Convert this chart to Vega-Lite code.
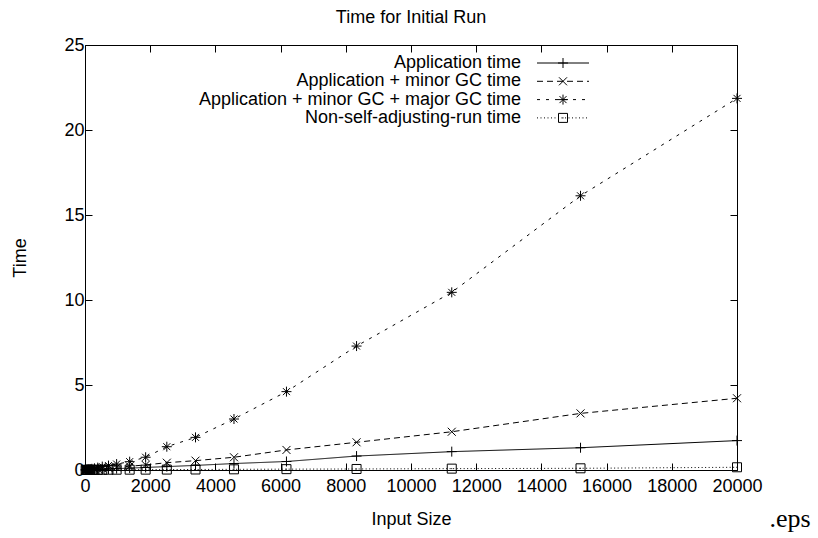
{
  "$schema": "https://vega.github.io/schema/vega-lite/v6.json",
  "width": 652,
  "height": 425,
  "autosize": {"type": "none"},
  "padding": {"left": 85, "top": 45, "right": 81, "bottom": 68},
  "background": "white",
  "title": {"text": "Time for Initial Run", "font": "Liberation Sans", "fontSize": 18, "fontWeight": "normal", "color": "black", "anchor": "middle", "offset": 9},
  "config": {
    "view": {"stroke": null},
    "axis": {"grid": false, "domainColor": "black", "domainWidth": 1, "tickColor": "black", "tickWidth": 1, "tickSize": -7, "labelFont": "Liberation Sans", "labelFontSize": 18, "labelColor": "black", "labelOverlap": false, "labelFlush": false, "titleFont": "Liberation Sans", "titleFontSize": 18, "titleFontWeight": "normal", "titleColor": "black"},
    "legend": {"padding": 0, "labelFont": "Liberation Sans", "labelFontSize": 18, "labelColor": "black", "labelLimit": 600}
  },
  "data": {"values": [
    {"n": 20, "Application time": 0.005, "Application + minor GC time": 0.006, "Application + minor GC + major GC time": 0.01, "Non-self-adjusting-run time": 0.002},
    {"n": 40, "Application time": 0.006, "Application + minor GC time": 0.008, "Application + minor GC + major GC time": 0.012, "Non-self-adjusting-run time": 0.003},
    {"n": 60, "Application time": 0.008, "Application + minor GC time": 0.01, "Application + minor GC + major GC time": 0.018, "Non-self-adjusting-run time": 0.004},
    {"n": 85, "Application time": 0.01, "Application + minor GC time": 0.013, "Application + minor GC + major GC time": 0.025, "Non-self-adjusting-run time": 0.005},
    {"n": 115, "Application time": 0.012, "Application + minor GC time": 0.017, "Application + minor GC + major GC time": 0.035, "Non-self-adjusting-run time": 0.006},
    {"n": 155, "Application time": 0.015, "Application + minor GC time": 0.022, "Application + minor GC + major GC time": 0.05, "Non-self-adjusting-run time": 0.007},
    {"n": 210, "Application time": 0.02, "Application + minor GC time": 0.03, "Application + minor GC + major GC time": 0.07, "Non-self-adjusting-run time": 0.008},
    {"n": 290, "Application time": 0.025, "Application + minor GC time": 0.045, "Application + minor GC + major GC time": 0.1, "Non-self-adjusting-run time": 0.01},
    {"n": 390, "Application time": 0.035, "Application + minor GC time": 0.065, "Application + minor GC + major GC time": 0.14, "Non-self-adjusting-run time": 0.012},
    {"n": 530, "Application time": 0.045, "Application + minor GC time": 0.09, "Application + minor GC + major GC time": 0.2, "Non-self-adjusting-run time": 0.014},
    {"n": 720, "Application time": 0.06, "Application + minor GC time": 0.12, "Application + minor GC + major GC time": 0.26, "Non-self-adjusting-run time": 0.016},
    {"n": 970, "Application time": 0.08, "Application + minor GC time": 0.16, "Application + minor GC + major GC time": 0.35, "Non-self-adjusting-run time": 0.018},
    {"n": 1370, "Application time": 0.11, "Application + minor GC time": 0.22, "Application + minor GC + major GC time": 0.49, "Non-self-adjusting-run time": 0.02},
    {"n": 1860, "Application time": 0.15, "Application + minor GC time": 0.3, "Application + minor GC + major GC time": 0.75, "Non-self-adjusting-run time": 0.022},
    {"n": 2510, "Application time": 0.2, "Application + minor GC time": 0.43, "Application + minor GC + major GC time": 1.37, "Non-self-adjusting-run time": 0.025},
    {"n": 3390, "Application time": 0.27, "Application + minor GC time": 0.55, "Application + minor GC + major GC time": 1.92, "Non-self-adjusting-run time": 0.03},
    {"n": 4570, "Application time": 0.38, "Application + minor GC time": 0.75, "Application + minor GC + major GC time": 3.0, "Non-self-adjusting-run time": 0.04},
    {"n": 6180, "Application time": 0.5, "Application + minor GC time": 1.18, "Application + minor GC + major GC time": 4.61, "Non-self-adjusting-run time": 0.05},
    {"n": 8330, "Application time": 0.82, "Application + minor GC time": 1.63, "Application + minor GC + major GC time": 7.29, "Non-self-adjusting-run time": 0.06},
    {"n": 11250, "Application time": 1.08, "Application + minor GC time": 2.25, "Application + minor GC + major GC time": 10.45, "Non-self-adjusting-run time": 0.08},
    {"n": 15200, "Application time": 1.31, "Application + minor GC time": 3.33, "Application + minor GC + major GC time": 16.13, "Non-self-adjusting-run time": 0.1},
    {"n": 20000, "Application time": 1.73, "Application + minor GC time": 4.22, "Application + minor GC + major GC time": 21.86, "Non-self-adjusting-run time": 0.16}
  ]},
  "transform": [
    {"fold": ["Application time", "Application + minor GC time", "Application + minor GC + major GC time", "Non-self-adjusting-run time"], "as": ["series", "t"]}
  ],
  "resolve": {"axis": {"x": "independent", "y": "independent"}},
  "layer": [
    {
      "mark": {"type": "line", "color": "black", "strokeWidth": 1},
      "encoding": {
        "x": {"field": "n", "type": "quantitative", "scale": {"domain": [0, 20000]},
              "axis": {"orient": "bottom", "values": [0, 2000, 4000, 6000, 8000, 10000, 12000, 14000, 16000, 18000, 20000], "format": "d", "labelPadding": 14, "labelDx": 2, "title": "Input Size", "titlePadding": 15}},
        "y": {"field": "t", "type": "quantitative", "scale": {"domain": [0, 25]},
              "axis": {"orient": "left", "values": [0, 5, 10, 15, 20, 25], "format": "d", "labelPadding": 8, "title": "Time", "titlePadding": 34}},
        "strokeDash": {"field": "series", "type": "nominal",
              "sort": ["Application time", "Application + minor GC time", "Application + minor GC + major GC time", "Non-self-adjusting-run time"],
              "scale": {"range": [[1, 0], [6, 4], [3, 6], [1, 2.5]]},
              "legend": {"title": null, "orient": "none", "legendX": 469, "legendY": 9, "direction": "vertical", "symbolType": "M-5.2,0H5.2", "symbolSize": 100, "symbolStrokeWidth": 1, "symbolStrokeColor": "black", "labelAlign": "right", "labelBaseline": "middle", "labelOffset": -51, "rowPadding": 0.3}}
      }
    },
    {
      "transform": [{"calculate": "datum.series", "as": "marker"}],
      "mark": {"type": "point", "filled": false, "color": "black", "strokeWidth": 1, "size": 100, "opacity": 1},
      "encoding": {
        "x": {"field": "n", "type": "quantitative", "scale": {"domain": [0, 20000]},
              "axis": {"orient": "top", "values": [0, 2000, 4000, 6000, 8000, 10000, 12000, 14000, 16000, 18000, 20000], "labels": false, "title": null}},
        "y": {"field": "t", "type": "quantitative", "scale": {"domain": [0, 25]},
              "axis": {"orient": "right", "values": [0, 5, 10, 15, 20, 25], "labels": false, "title": ".eps", "titleFont": "Liberation Serif", "titleFontSize": 26, "titleAngle": 0, "titleAlign": "left", "titleBaseline": "alphabetic", "titleX": 32, "titleY": 481}},
        "shape": {"field": "marker", "type": "nominal",
              "sort": ["Application time", "Application + minor GC time", "Application + minor GC + major GC time", "Non-self-adjusting-run time"],
              "scale": {"range": ["M-1,0H1M0,-1V1", "M-0.8,-0.8L0.8,0.8M-0.8,0.8L0.8,-0.8", "M-1,0H1M0,-1V1M-0.7,-0.7L0.7,0.7M-0.7,0.7L0.7,-0.7", "M-0.9,-0.9H0.9V0.9H-0.9ZM-0.1,0H0.1"]},
              "legend": {"title": null, "orient": "none", "legendX": 469, "legendY": 9, "direction": "vertical", "symbolSize": 100, "symbolStrokeWidth": 1, "symbolStrokeColor": "black", "symbolFillColor": "transparent", "labelExpr": "''", "labelAlign": "right", "labelBaseline": "middle", "labelOffset": -40, "rowPadding": 0.3}}
      }
    }
  ]
}
